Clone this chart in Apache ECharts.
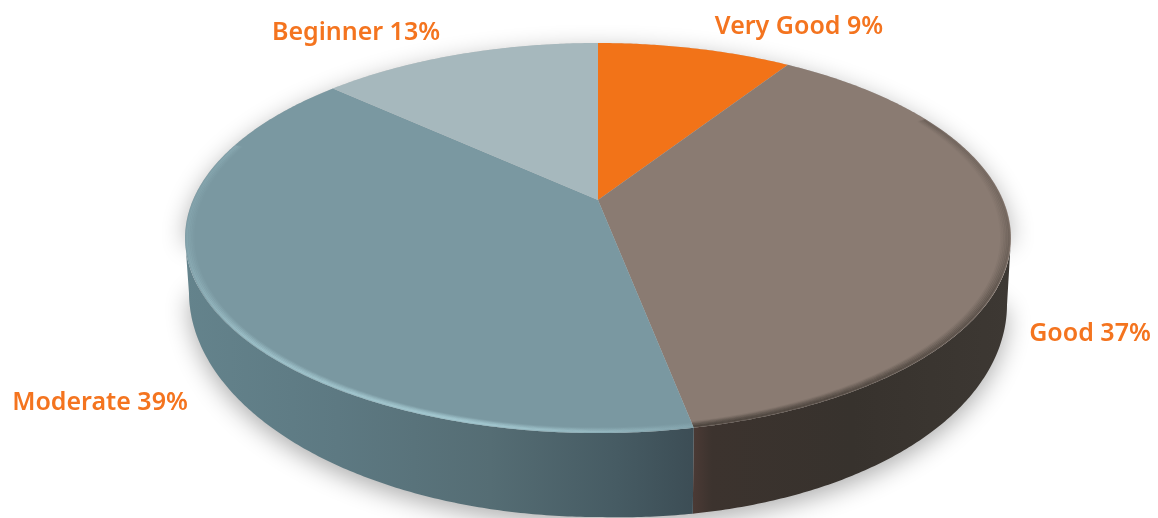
<!DOCTYPE html>
<html>
<head>
<meta charset="utf-8">
<style>
  html, body { margin: 0; padding: 0; background: #fff; }
  #chart { width: 1158px; height: 518px; }
</style>
<script src="https://cdn.jsdelivr.net/npm/echarts@6/dist/echarts.min.js"></script>
</head>
<body>
<div id="chart"></div>
<script>
const categories = ['Very Good', 'Good', 'Moderate', 'Beginner'];
const shares = [9, 37, 39, 13];

const topColors = ['#f27318', '#8a7b72', '#7a98a1', '#a6b8bd'];
const labelSpots = [[799, 27], [1090, 334], [100, 403], [356, 33]];

// tilted disc: the hub sits above the middle of the rim ellipse
const disc = { cx: 598, hubY: 200, halfW: 405, halfH: 187.6, tilt: 0.195 };
const rim = { cx: 598, cy: 238, rx: 413, ry: 195 };
const base = { cx: 598, cy: 292, rx: 409, ry: 225, rightSag: 12 };

const total = shares.reduce((a, b) => a + b, 0);

const project = (deg, scale = 1) => {
    const rad = deg * Math.PI / 180;
    const w = 1 + disc.tilt * Math.cos(rad);
    return [
        disc.cx + disc.halfW * scale * Math.sin(rad) / w,
        disc.hubY - disc.halfH * scale * Math.cos(rad) / w
    ];
};

const arcPoints = (from, to, scale = 1) => {
    const pts = [];
    for (let d = from; d < to; d += 0.5) pts.push(project(d, scale));
    pts.push(project(to, scale));
    return pts;
};

// same spot on the lower edge of the wall, the right side hangs a little lower
const dropToBase = (p) => {
    const phi = Math.atan2((p[0] - rim.cx) / rim.rx, -(p[1] - rim.cy) / rim.ry);
    const sag = base.rightSag * Math.max(0, Math.sin(phi));
    return [base.cx + base.rx * Math.sin(phi), base.cy - base.ry * Math.cos(phi) + sag];
};

const wallGradients = {
    1: [[0, '#4b3a35'], [0.06, '#3c332e'], [0.5, '#37322d'], [1, '#3d3833']],
    2: [[0, '#64838c'], [0.3, '#5d7982'], [0.6, '#556d74'], [0.85, '#465b63'], [1, '#3c4d55']]
};

// soft bevel: thin nested strokes that fade towards the hub
const bevels = {
    1: { from: 62, rgb: '58,52,46', peak: 0.55, layers: 6, step: 0.004,
         dir: [1, 0, 0, 1], stops: [[0, 0], [0.3, 0.8], [1, 1]] },
    2: { to: 288, rgb: '170,208,216', peak: 0.7, layers: 5, step: 0.004,
         dir: [1, 1, 0, 0], stops: [[0, 0.15], [0.35, 1], [0.75, 0.8], [1, 0]] }
};

const bevelLayers = (i, start, end) => {
    const b = bevels[i];
    const from = b.from === undefined ? start : b.from;
    const to = b.to === undefined ? end : b.to;
    const out = [];
    for (let n = 0; n < b.layers; n++) {
        const fade = b.peak * (1 - n / b.layers);
        out.push({
            type: 'polyline',
            shape: { points: arcPoints(from, to, 1 - 0.004 - n * b.step) },
            style: {
                fill: 'none',
                lineWidth: 2,
                stroke: new echarts.graphic.LinearGradient(b.dir[0], b.dir[1], b.dir[2], b.dir[3],
                    b.stops.map(s => ({ offset: s[0], color: 'rgba(' + b.rgb + ',' + (s[1] * fade).toFixed(3) + ')' })))
            }
        });
    }
    return out;
};

const renderSlice = (params, api) => {
    const i = params.dataIndex;
    const before = shares.slice(0, i).reduce((a, b) => a + b, 0);
    const start = before / total * 360;
    const end = start + api.value(0) / total * 360;
    let children = [];

    if (i === 0) {
        const all = arcPoints(0, 360);
        const outer = all.filter(p => p[1] >= rim.cy).map(dropToBase);
        children.push({
            type: 'polygon',
            shape: { points: all.filter(p => p[1] < rim.cy).concat(outer) },
            style: {
                fill: '#c8c8c8',
                shadowColor: 'rgba(0,0,0,0.32)',
                shadowBlur: 24,
                shadowOffsetY: 7
            }
        });
    }

    if (wallGradients[i]) {
        const edge = arcPoints(start, end).filter(p => p[1] >= rim.cy);
        children.push({
            type: 'polygon',
            shape: { points: edge.concat(edge.map(dropToBase).reverse()) },
            style: { fill: new echarts.graphic.LinearGradient(0, 0, 1, 0, wallGradients[i].map(s => ({ offset: s[0], color: s[1] }))) }
        });
    }

    children.push({
        type: 'polygon',
        shape: { points: [project(0, 0)].concat(arcPoints(start, end)) },
        style: { fill: topColors[i] }
    });

    if (bevels[i]) children = children.concat(bevelLayers(i, start, end));

    children.push({
        type: 'text',
        z2: 10,
        style: {
            x: labelSpots[i][0],
            y: labelSpots[i][1],
            text: categories[i] + ' ' + api.value(0) + '%',
            fill: '#f4741f',
            font: '600 25px "Noto Sans", sans-serif',
            align: 'center',
            verticalAlign: 'middle'
        }
    });

    return { type: 'group', children: children };
};

const chart = echarts.init(document.getElementById('chart'));
chart.setOption({
    animation: false,
    backgroundColor: '#ffffff',
    series: [{
        type: 'custom',
        coordinateSystem: 'none',
        renderItem: renderSlice,
        data: shares.map(v => [v]),
        silent: true
    }]
});
</script>
</body>
</html>
